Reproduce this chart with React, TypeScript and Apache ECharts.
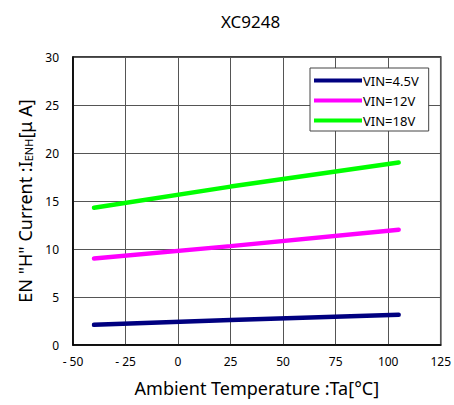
import React, { useEffect, useRef } from "react";
import * as echarts from "echarts";

const temps = [-40, 25, 105];
const vin45 = [2.1, 2.6, 3.15];
const vin12 = [9.0, 10.3, 12.0];
const vin18 = [14.3, 16.5, 19.0];
const seriesNames = ["VIN=4.5V", "VIN=12V", "VIN=18V"];
const seriesColors = ["#000080", "#ff00ff", "#00ff00"];

export default function App() {
  const ref = useRef<HTMLDivElement>(null);
  useEffect(() => {
    if (!ref.current) return;
    const chart = echarts.init(ref.current, undefined, { renderer: "svg" });
    const font = "'Noto Sans', sans-serif";
    const values = [vin45, vin12, vin18];
    chart.setOption({
      animation: false,
      backgroundColor: "#ffffff",
      textStyle: { fontFamily: font, color: "#000" },
      title: {
        text: "XC9248",
        left: 216,
        top: 8,
        textStyle: { fontFamily: font, fontSize: 17, fontWeight: "normal", color: "#000" },
      },
      grid: { left: 73, top: 57, right: 13, bottom: 60, show: true, borderColor: "#000", borderWidth: 1.5 },
      legend: {
        orient: "vertical",
        left: 310,
        top: 68,
        width: 119,
        padding: [6, 10, 4, 4],
        itemGap: 7,
        itemWidth: 48,
        itemHeight: 16,
        borderColor: "#444",
        borderWidth: 1,
        backgroundColor: "#fff",
        textStyle: { fontFamily: font, fontSize: 13, color: "#000", padding: [0, 0, 0, -4] },
        data: seriesNames.map((n) => ({ name: n, icon: "path://M0,6 L48,6 L48,10 L0,10 Z" })),
      },
      xAxis: {
        type: "value",
        min: -50,
        max: 125,
        interval: 25,
        name: "Ambient Temperature :Ta[°C]",
        nameLocation: "middle",
        nameGap: 34,
        nameTextStyle: { fontFamily: font, fontSize: 18, color: "#000" },
        axisLine: { show: true, onZero: false, lineStyle: { color: "#000", width: 1.5 } },
        axisTick: { show: false },
        splitLine: { show: true, lineStyle: { color: "#555", width: 1 } },
        axisLabel: {
          fontFamily: font,
          fontSize: 12,
          color: "#000",
          margin: 10,
          formatter: (v: number) => (v < 0 ? "- " + Math.abs(v) : String(v)),
        },
      },
      yAxis: {
        type: "value",
        min: 0,
        max: 30,
        interval: 5,
        name: "{n|EN \"H\" Current :I}{s|ENH}{n|[μ A]}",
        nameLocation: "middle",
        nameGap: 37,
        nameTextStyle: {
          fontFamily: font,
          fontSize: 18,
          color: "#000",
          rich: {
            n: { fontFamily: font, fontSize: 18, color: "#000" },
            s: { fontFamily: font, fontSize: 11, color: "#000", verticalAlign: "bottom", padding: [7, 0, 0, 0] },
          },
        },
        axisLine: { show: true, onZero: false, lineStyle: { color: "#000", width: 1.5 } },
        axisTick: { show: false },
        splitLine: { show: true, lineStyle: { color: "#555", width: 1 } },
        axisLabel: { fontFamily: font, fontSize: 12, color: "#000", margin: 14 },
      },
      series: seriesNames.map((n, i) => ({
        name: n,
        type: "line",
        data: temps.map((t, j) => [t, values[i][j]]),
        symbol: "none",
        smooth: false,
        lineStyle: { color: seriesColors[i], width: 4.5, cap: "round" },
        itemStyle: { color: seriesColors[i] },
      })),
    });
    return () => chart.dispose();
  }, []);
  return <div ref={ref} style={{ width: 454, height: 405, position: "absolute", left: 0, top: 0 }} />;
}
